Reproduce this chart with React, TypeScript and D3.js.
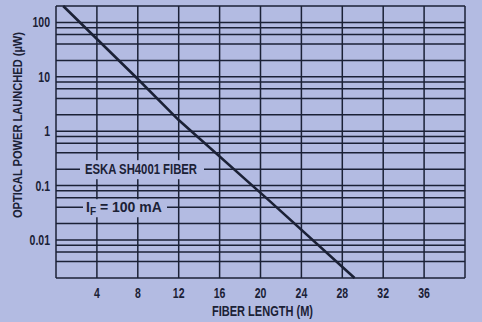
import React, { useEffect, useRef } from "react";
import * as d3 from "d3";

// fiber length (m) vs launched optical power (uW)
const lengthM = [0.7, 8, 12, 20.8, 29.2];
const powerUW = [200, 9.1, 1.6, 0.054, 0.002];

const xTicks = [4, 8, 12, 16, 20, 24, 28, 32, 36];
const xGrid = [0, 4, 8, 12, 16, 20, 24, 28, 32, 36, 40];
const yTicks = [100, 10, 1, 0.1, 0.01];
const yTickLabels = ["100", "10", "1", "0.1", "0.01"];
const decades = [0.001, 0.01, 0.1, 1, 10, 100];
const gridMults = [1, 2, 4, 6, 8];

const BG = "#b3bbe2";
const INK = "#1b2136";
const FONT = "'Liberation Sans Narrow', 'Liberation Sans', Arial, sans-serif";

export default function App() {
  const ref = useRef<SVGSVGElement>(null);

  useEffect(() => {
    const width = 482;
    const height = 322;
    const svg = d3.select(ref.current).attr("width", width).attr("height", height);
    svg.selectAll("*").remove();

    svg.append("rect").attr("width", width).attr("height", height).attr("fill", BG);

    const x = d3.scaleLinear().domain([0, 40]).range([56, 465]);
    const y = d3.scaleLog().domain([0.002, 200]).range([278, 6]);

    // horizontal grid: 1,2,4,6,8 per decade
    const hLines: number[] = [];
    decades.forEach((d) => gridMults.forEach((m) => {
      const v = +(d * m).toPrecision(3);
      if (v >= 0.002 && v <= 200) hLines.push(v);
    }));

    const grid = svg.append("g").attr("stroke", INK).attr("stroke-width", 1.5);
    grid.selectAll(".h").data(hLines).join("line").attr("class", "h")
      .attr("x1", x(0)).attr("x2", x(40))
      .attr("y1", (d) => y(d)).attr("y2", (d) => y(d));
    grid.selectAll(".v").data(xGrid).join("line").attr("class", "v")
      .attr("x1", (d) => x(d)).attr("x2", (d) => x(d))
      .attr("y1", y(200)).attr("y2", y(0.002));

    // the curve
    const pts = lengthM.map((l, i) => [l, powerUW[i]] as [number, number]);
    svg.append("path").datum(pts)
      .attr("fill", "none").attr("stroke", INK).attr("stroke-width", 2.6)
      .attr("d", d3.line<[number, number]>().x((d) => x(d[0])).y((d) => y(d[1])));

    // in-plot notes, set on top of gridlines with a background patch
    const notes = svg.append("g").attr("font-family", FONT).attr("font-weight", "bold")
      .attr("fill", INK).attr("font-size", 14);
    notes.append("rect").attr("x", 80).attr("y", y(0.2) - 9).attr("width", 124).attr("height", 19).attr("fill", BG);
    notes.append("text").attr("x", 85).attr("y", y(0.2) + 5)
      .attr("textLength", 112).attr("lengthAdjust", "spacingAndGlyphs")
      .text("ESKA SH4001 FIBER");
    notes.append("rect").attr("x", 83).attr("y", y(0.04) - 8).attr("width", 84).attr("height", 18).attr("fill", BG);
    const ifText = notes.append("text").attr("x", 86).attr("y", y(0.04) + 5);
    ifText.append("tspan").text("I");
    ifText.append("tspan").attr("font-size", 10).attr("dy", 3).text("F");
    ifText.append("tspan").attr("dy", -3).text(" = 100 mA");

    // tick labels
    const labels = svg.append("g").attr("font-family", FONT).attr("font-weight", "bold")
      .attr("fill", INK).attr("font-size", 14);
    labels.selectAll(".xt").data(xTicks).join("text").attr("class", "xt")
      .attr("x", (d) => x(d)).attr("y", 298).attr("text-anchor", "middle")
      .attr("transform", (d) => `translate(${x(d)},0) scale(0.75,1) translate(${-x(d)},0)`)
      .text((d) => String(d));
    labels.selectAll(".yt").data(yTicks).join("text").attr("class", "yt")
      .attr("x", 50).attr("y", (d) => y(d)).attr("dy", "0.36em").attr("text-anchor", "end")
      .attr("transform", "translate(50,0) scale(0.75,1) translate(-50,0)")
      .text((_, i) => yTickLabels[i]);

    // axis titles
    labels.append("text").attr("x", 212).attr("y", 316)
      .attr("textLength", 101).attr("lengthAdjust", "spacingAndGlyphs")
      .text("FIBER LENGTH (M)");
    labels.append("text").attr("transform", "translate(22,218) rotate(-90)")
      .attr("font-size", 13)
      .attr("textLength", 186).attr("lengthAdjust", "spacingAndGlyphs")
      .text("OPTICAL POWER LAUNCHED (\u00b5W)");
  }, []);

  return <svg ref={ref} style={{ position: "absolute", left: 0, top: 0 }} />;
}
